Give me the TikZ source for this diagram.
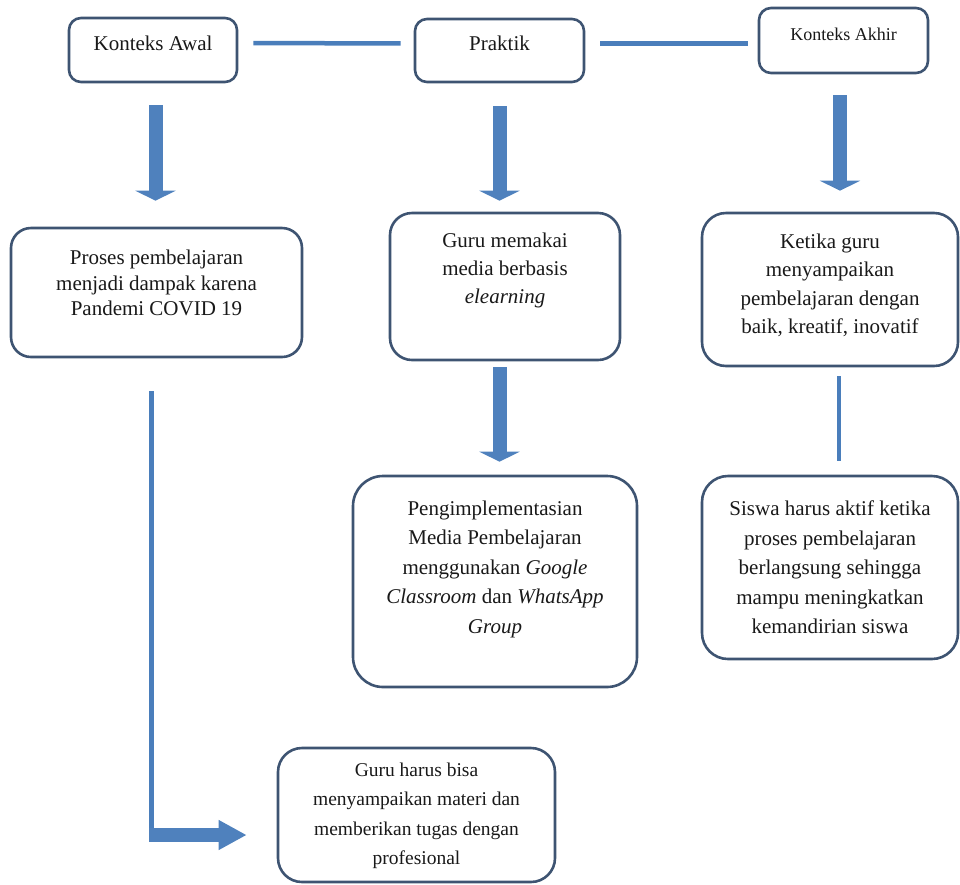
\documentclass[tikz,border=0pt]{standalone}
\usepackage{fontspec}
\setmainfont{Liberation Serif}
\usetikzlibrary{arrows.meta,calc}
\definecolor{boxline}{RGB}{62,84,114}
\definecolor{linkblue}{RGB}{74,126,187}
\definecolor{arrowblue}{RGB}{79,129,189}
\tikzset{
  boxnode/.style={draw=boxline, line width=2.6pt, fill=white, inner sep=0pt, rounded corners=#1},
  boxnode/.default=12pt,
  txt/.style={align=center, inner sep=0pt, text=black!90},
  hlink/.style={draw=linkblue, line width=4.5pt},
  barrow/.style={draw=arrowblue, line width=14pt, -{Triangle[width=40pt,length=10pt]}},
  rarrow/.style={draw=arrowblue, line width=14pt, -{Triangle[width=28pt,length=28pt]}}
}
\begin{document}
\begin{tikzpicture}[x=1pt,y=-1pt]
\useasboundingbox (0,0) rectangle (960,884);
% boxes
\node[boxnode, minimum width=168pt, minimum height=64pt] (b1) at (153,50) {};
\node[boxnode, minimum width=169pt, minimum height=63pt] (b2) at (499.5,50.5) {};
\node[boxnode, minimum width=169pt, minimum height=65pt] (b3) at (843.5,40.5) {};
\node[boxnode=20pt, minimum width=291pt, minimum height=129pt] (b4) at (156.5,292.5) {};
\node[boxnode=22pt, minimum width=230pt, minimum height=147pt] (b5) at (505,286.5) {};
\node[boxnode=24pt, minimum width=256pt, minimum height=153pt] (b6) at (830,289.5) {};
\node[boxnode=30pt, minimum width=284pt, minimum height=211pt] (b7) at (495,581.5) {};
\node[boxnode=26pt, minimum width=256pt, minimum height=183pt] (b8) at (830,567.5) {};
\node[boxnode=24pt, minimum width=277pt, minimum height=134pt] (b9) at (416.5,815) {};
% texts
\node[txt, font=\fontsize{21}{25}\selectfont] (t1) at (153,43) {Konteks Awal};
\node[txt, font=\fontsize{21}{25}\selectfont] (t2) at (499.5,43) {Praktik};
\node[txt, font=\fontsize{18}{22}\selectfont] (t3) at (843.5,34) {Konteks Akhir};
\node[txt, font=\fontsize{21}{25.5}\selectfont] (t4) at (156.5,283) {Proses pembelajaran\\menjadi dampak karena\\Pandemi COVID 19};
\node[txt, font=\fontsize{21}{28}\selectfont] (t5) at (505,270) {Guru memakai\\media berbasis\\\textit{elearning}};
\node[txt, font=\fontsize{21}{28.5}\selectfont] (t6) at (830,285.5) {Ketika guru\\menyampaikan\\pembelajaran dengan\\baik, kreatif, inovatif};
\node[txt, font=\fontsize{21}{29.5}\selectfont] (t7) at (495,569) {Pengimplementasian\\Media Pembelajaran\\menggunakan \textit{Google}\\\textit{Classroom} dan \textit{WhatsApp}\\\textit{Group}};
\node[txt, font=\fontsize{21}{29.5}\selectfont] (t8) at (830,567.5) {Siswa harus aktif ketika\\proses pembelajaran\\berlangsung sehingga\\mampu meningkatkan\\kemandirian siswa};
\node[txt, font=\fontsize{19.5}{29.5}\selectfont] (t9) at (416.5,816) {Guru harus bisa\\menyampaikan materi dan\\memberikan tugas dengan\\profesional};
% top horizontal links
\draw[hlink, shorten <=15pt, shorten >=13pt] ([yshift=7pt]b1.east) -- ([yshift=7pt]b2.west);
\draw[hlink, shorten <=15pt, shorten >=10pt] ([yshift=7pt]b2.east) -- ([yshift=7pt]b2.east -| b3.west);
% block arrows down
\draw[barrow, shorten <=22pt, shorten >=26pt] ([xshift=2.5pt]b1.south) -- ([xshift=2.5pt]b1.south |- b4.north);
\draw[barrow, shorten <=23pt, shorten >=11pt] (b2.south) -- (b2.south |- b5.north);
\draw[barrow, shorten <=21pt, shorten >=21pt] ([xshift=-3.5pt]b3.south) -- ([xshift=-3.5pt]b3.south |- b6.north);
\draw[barrow, shorten <=6pt, shorten >=13pt] (b5.south -| b2.south) -- (b7.north -| b2.south);
% right plain link
\draw[hlink, shorten <=9pt, shorten >=14pt] ([xshift=9pt]b6.south) -- ([xshift=9pt]b6.south |- b8.north);
% left elbow
\coordinate (elbow) at (151.5,835);
\draw[hlink, shorten <=33pt, shorten >=-7pt] (b4.south -| elbow) -- (elbow);
\draw[rarrow, shorten <=-2.5pt, shorten >=30pt] (elbow) -- (elbow -| b9.west);
\end{tikzpicture}
\end{document}
